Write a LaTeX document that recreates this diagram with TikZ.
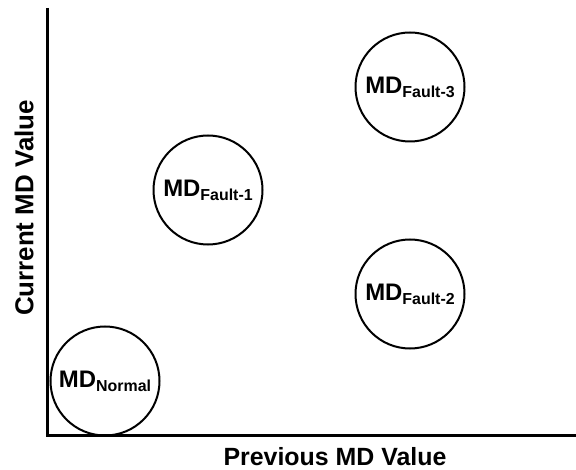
\documentclass[tikz,border=0pt]{standalone}
\usepackage{fontspec}
\setmainfont{Liberation Sans}
\begin{document}
\begin{tikzpicture}[x=1bp,y=-1bp,
  axis/.style={line width=3bp},
  mdcircle/.style={circle,draw,line width=2bp,minimum size=109bp,inner sep=0pt},
  axlabel/.style={font=\fontsize{25}{25}\selectfont\bfseries}]
\useasboundingbox (0,0) rectangle (576,470);
\coordinate (o) at (47,435);
\coordinate (ytop) at (47,8);
\coordinate (xend) at (576,435);
\draw[axis] (ytop) -- (o) -- (xend);
\newcommand{\mdlab}[1]{\bfseries{\fontsize{24}{24}\selectfont MD}\raisebox{-4bp}{\fontsize{16}{16}\selectfont #1}}
\node[mdcircle] (normal) at (105,381) {\mdlab{Normal}};
\node[mdcircle] (f1) at (208,190) {\mdlab{Fault-1}};
\node[mdcircle] (f3) at (410,87) {\mdlab{Fault-3}};
\node[mdcircle] (f2) at (410,294) {\mdlab{Fault-2}};
\node[axlabel] (xl) at (335,457) {Previous MD Value};
\node[axlabel,rotate=90] (yl) at (24,208) {\fontsize{26}{26}\selectfont Current MD Value};
\end{tikzpicture}
\end{document}
